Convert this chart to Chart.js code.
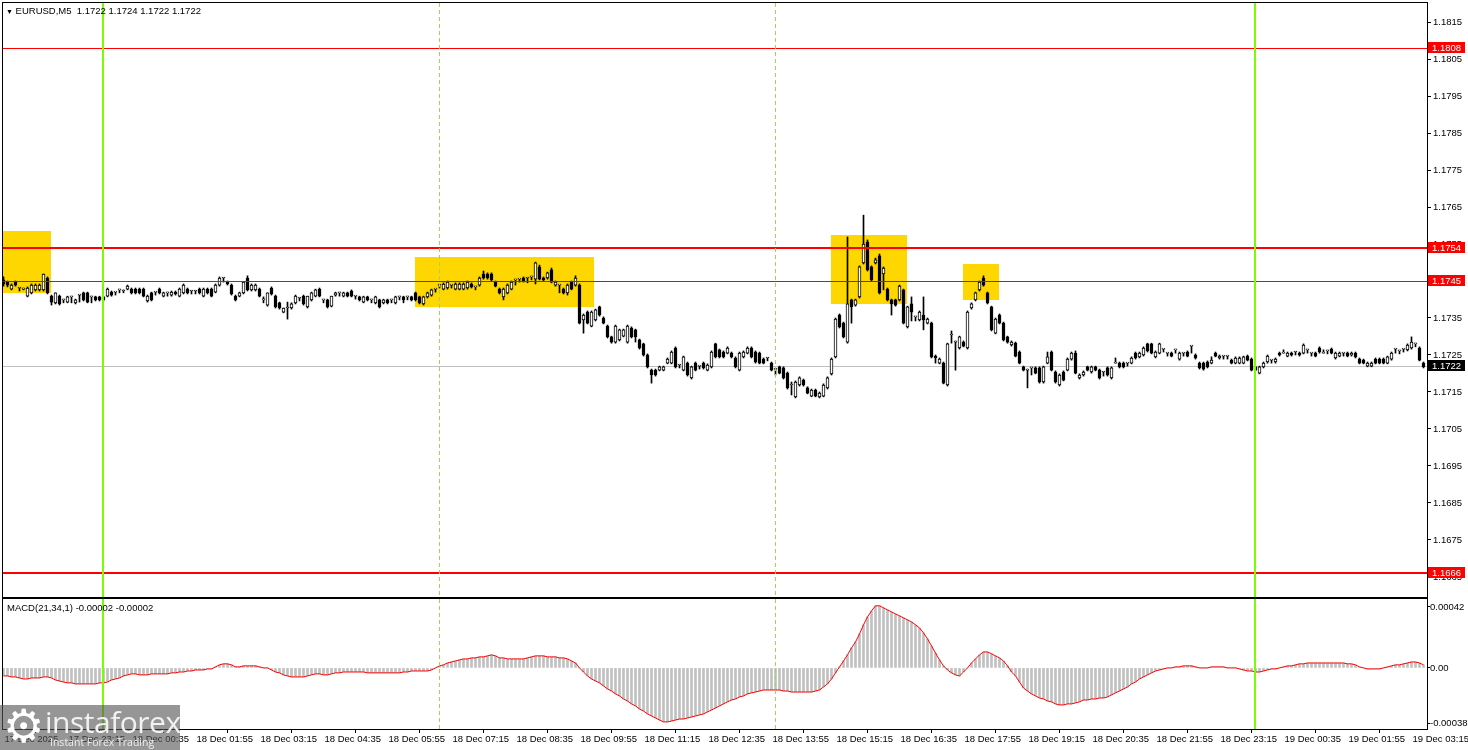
<!DOCTYPE html>
<html>
<head>
<meta charset="utf-8">
<script src="https://cdn.jsdelivr.net/npm/chart.js@4.4.1/dist/chart.umd.min.js"></script>
<style>
  html, body { margin: 0; padding: 0; background: #fff; }
  #wrap { position: relative; width: 1468px; height: 750px; overflow: hidden; font-family: "Liberation Sans", Arial, sans-serif; }
  canvas { position: absolute; left: 0; }
  #main { top: 0; }
  #macd { top: 598px; }
  .lbl { position: absolute; font-size: 9.5px; color: #000; white-space: pre; line-height: 12px; }
  #wm { position: absolute; left: 0; top: 705px; width: 180px; height: 45px; background: rgba(85,85,85,0.62); color: #fff; }
  #wm .gear { position: absolute; left: 3px; top: -5px; font-size: 46px; line-height: 52px; font-family: "DejaVu Sans", sans-serif; color: #fff; }
  #wm .big { position: absolute; left: 45px; top: -1px; font-size: 30px; line-height: 36px; font-family: "Open Sans", sans-serif; color: #f2f2f2; letter-spacing: -0.5px; }
  #wm .small { position: absolute; left: 50px; top: 31px; font-size: 10.5px; line-height: 13px; font-family: "Open Sans", sans-serif; color: #eee; }
</style>
</head>
<body>
<div id="wrap">
  <canvas id="main" width="1468" height="598"></canvas>
  <canvas id="macd" width="1468" height="152"></canvas>
  <div class="lbl" style="left:6px;top:5px"><span style="font-size:7px">&#9660;</span> EURUSD,M5  1.1722 1.1724 1.1722 1.1722</div>
  <div class="lbl" style="left:7px;top:602px">MACD(21,34,1) -0.00002 -0.00002</div>
  <div id="wm"><span class="gear">&#9881;</span><span class="big">instaforex</span><span class="small">Instant Forex Trading</span></div>
</div>
<script>
// EURUSD M5, 17 Dec 21:55 -> 19 Dec 03:30, one row per candle: [open, high, low, close]
var ohlc = [
  [1.17453,1.17461,1.17436,1.17442],[1.17447,1.17450,1.17434,1.17439],[1.17428,1.17442,1.17426,1.17439],[1.17447,1.17450,1.17436,1.17439],[1.17431,1.17431,1.17423,1.17431],[1.17428,1.17431,1.17426,1.17428],[1.17409,1.17434,1.17407,1.17431],[1.17418,1.17442,1.17415,1.17439],[1.17426,1.17442,1.17423,1.17439],[1.17426,1.17442,1.17423,1.17439],
  [1.17426,1.17469,1.17423,1.17469],[1.17458,1.17461,1.17415,1.17418],[1.17409,1.17412,1.17385,1.17393],[1.17391,1.17418,1.17388,1.17418],[1.17409,1.17412,1.17385,1.17388],[1.17399,1.17399,1.17391,1.17399],[1.17393,1.17409,1.17391,1.17407],[1.17407,1.17407,1.17391,1.17407],[1.17391,1.17401,1.17388,1.17399],[1.17412,1.17412,1.17393,1.17412],
  [1.17418,1.17420,1.17396,1.17399],[1.17418,1.17420,1.17391,1.17393],[1.17407,1.17407,1.17391,1.17407],[1.17407,1.17409,1.17396,1.17399],[1.17407,1.17409,1.17396,1.17399],[1.17407,1.17409,1.17396,1.17399],[1.17409,1.17431,1.17407,1.17428],[1.17420,1.17423,1.17409,1.17412],[1.17420,1.17420,1.17412,1.17420],[1.17426,1.17426,1.17418,1.17426],
  [1.17423,1.17426,1.17418,1.17423],[1.17428,1.17439,1.17426,1.17436],[1.17428,1.17431,1.17415,1.17418],[1.17428,1.17431,1.17415,1.17418],[1.17428,1.17431,1.17415,1.17418],[1.17428,1.17431,1.17407,1.17409],[1.17396,1.17412,1.17393,1.17409],[1.17418,1.17420,1.17396,1.17399],[1.17420,1.17420,1.17412,1.17420],[1.17428,1.17431,1.17415,1.17418],
  [1.17409,1.17420,1.17407,1.17418],[1.17418,1.17418,1.17409,1.17418],[1.17412,1.17423,1.17409,1.17420],[1.17420,1.17423,1.17412,1.17415],[1.17409,1.17431,1.17407,1.17428],[1.17418,1.17442,1.17415,1.17439],[1.17428,1.17431,1.17415,1.17418],[1.17423,1.17423,1.17415,1.17423],[1.17423,1.17423,1.17415,1.17423],[1.17428,1.17431,1.17415,1.17418],
  [1.17409,1.17431,1.17407,1.17428],[1.17428,1.17431,1.17415,1.17418],[1.17428,1.17431,1.17407,1.17409],[1.17420,1.17442,1.17418,1.17439],[1.17439,1.17461,1.17436,1.17458],[1.17458,1.17458,1.17447,1.17458],[1.17447,1.17450,1.17439,1.17442],[1.17439,1.17442,1.17412,1.17415],[1.17409,1.17412,1.17396,1.17399],[1.17409,1.17420,1.17407,1.17418],
  [1.17418,1.17447,1.17415,1.17447],[1.17458,1.17464,1.17423,1.17426],[1.17426,1.17442,1.17423,1.17439],[1.17426,1.17442,1.17423,1.17439],[1.17428,1.17431,1.17407,1.17409],[1.17399,1.17407,1.17391,1.17399],[1.17385,1.17418,1.17382,1.17418],[1.17431,1.17434,1.17412,1.17415],[1.17409,1.17412,1.17377,1.17380],[1.17391,1.17393,1.17374,1.17377],
  [1.17366,1.17377,1.17364,1.17377],[1.17377,1.17393,1.17347,1.17377],[1.17377,1.17391,1.17374,1.17388],[1.17391,1.17412,1.17388,1.17409],[1.17404,1.17404,1.17396,1.17404],[1.17409,1.17412,1.17385,1.17388],[1.17380,1.17409,1.17377,1.17409],[1.17399,1.17420,1.17396,1.17418],[1.17409,1.17428,1.17407,1.17426],[1.17428,1.17431,1.17407,1.17409],
  [1.17399,1.17399,1.17391,1.17399],[1.17399,1.17401,1.17377,1.17380],[1.17382,1.17409,1.17380,1.17409],[1.17412,1.17420,1.17409,1.17418],[1.17418,1.17418,1.17409,1.17418],[1.17409,1.17420,1.17407,1.17418],[1.17418,1.17420,1.17407,1.17409],[1.17423,1.17426,1.17407,1.17409],[1.17409,1.17409,1.17401,1.17409],[1.17407,1.17409,1.17396,1.17399],
  [1.17393,1.17409,1.17391,1.17407],[1.17407,1.17409,1.17396,1.17399],[1.17399,1.17399,1.17391,1.17399],[1.17391,1.17409,1.17388,1.17407],[1.17399,1.17401,1.17377,1.17380],[1.17391,1.17401,1.17388,1.17399],[1.17399,1.17401,1.17388,1.17391],[1.17399,1.17399,1.17391,1.17399],[1.17391,1.17409,1.17388,1.17407],[1.17407,1.17407,1.17399,1.17407],
  [1.17407,1.17409,1.17391,1.17399],[1.17407,1.17407,1.17399,1.17407],[1.17407,1.17409,1.17396,1.17399],[1.17418,1.17420,1.17396,1.17399],[1.17407,1.17409,1.17388,1.17391],[1.17388,1.17409,1.17385,1.17407],[1.17407,1.17420,1.17404,1.17418],[1.17412,1.17428,1.17409,1.17426],[1.17428,1.17428,1.17420,1.17428],[1.17439,1.17439,1.17431,1.17439],
  [1.17428,1.17445,1.17426,1.17442],[1.17431,1.17450,1.17428,1.17447],[1.17439,1.17439,1.17431,1.17439],[1.17428,1.17445,1.17426,1.17442],[1.17428,1.17445,1.17426,1.17442],[1.17428,1.17445,1.17426,1.17442],[1.17431,1.17450,1.17428,1.17447],[1.17442,1.17445,1.17431,1.17434],[1.17434,1.17434,1.17426,1.17434],[1.17439,1.17461,1.17436,1.17458],
  [1.17469,1.17477,1.17455,1.17458],[1.17469,1.17472,1.17455,1.17458],[1.17469,1.17472,1.17450,1.17453],[1.17447,1.17450,1.17434,1.17436],[1.17428,1.17431,1.17415,1.17418],[1.17407,1.17431,1.17399,1.17428],[1.17418,1.17442,1.17415,1.17439],[1.17428,1.17450,1.17426,1.17447],[1.17453,1.17453,1.17439,1.17453],[1.17455,1.17455,1.17447,1.17455],
  [1.17458,1.17461,1.17447,1.17450],[1.17458,1.17458,1.17445,1.17458],[1.17461,1.17461,1.17453,1.17461],[1.17455,1.17501,1.17442,1.17499],[1.17488,1.17493,1.17453,1.17455],[1.17458,1.17461,1.17450,1.17453],[1.17458,1.17474,1.17455,1.17472],[1.17480,1.17485,1.17445,1.17447],[1.17439,1.17450,1.17436,1.17447],[1.17439,1.17439,1.17418,1.17439],
  [1.17428,1.17431,1.17415,1.17418],[1.17418,1.17442,1.17412,1.17439],[1.17447,1.17450,1.17426,1.17428],[1.17439,1.17464,1.17436,1.17458],[1.17439,1.17442,1.17334,1.17336],[1.17345,1.17361,1.17309,1.17358],[1.17366,1.17369,1.17334,1.17336],[1.17328,1.17369,1.17326,1.17366],[1.17345,1.17374,1.17342,1.17372],[1.17380,1.17382,1.17355,1.17358],
  [1.17350,1.17353,1.17334,1.17336],[1.17328,1.17331,1.17296,1.17299],[1.17299,1.17301,1.17282,1.17285],[1.17285,1.17331,1.17282,1.17328],[1.17291,1.17320,1.17288,1.17318],[1.17301,1.17320,1.17299,1.17318],[1.17285,1.17331,1.17282,1.17328],[1.17323,1.17326,1.17296,1.17299],[1.17318,1.17320,1.17285,1.17299],[1.17291,1.17293,1.17266,1.17269],
  [1.17280,1.17282,1.17247,1.17250],[1.17250,1.17253,1.17215,1.17218],[1.17209,1.17212,1.17174,1.17196],[1.17209,1.17212,1.17193,1.17196],[1.17209,1.17220,1.17207,1.17218],[1.17209,1.17220,1.17207,1.17218],[1.17228,1.17242,1.17226,1.17239],[1.17228,1.17261,1.17226,1.17258],[1.17269,1.17272,1.17215,1.17218],[1.17223,1.17223,1.17215,1.17223],
  [1.17209,1.17247,1.17207,1.17245],[1.17228,1.17231,1.17193,1.17196],[1.17188,1.17220,1.17185,1.17218],[1.17228,1.17231,1.17207,1.17209],[1.17220,1.17220,1.17212,1.17220],[1.17228,1.17231,1.17212,1.17215],[1.17209,1.17226,1.17207,1.17223],[1.17218,1.17261,1.17215,1.17258],[1.17280,1.17282,1.17242,1.17245],[1.17264,1.17266,1.17242,1.17245],
  [1.17258,1.17261,1.17242,1.17245],[1.17255,1.17272,1.17253,1.17269],[1.17255,1.17258,1.17242,1.17245],[1.17242,1.17245,1.17215,1.17218],[1.17209,1.17258,1.17207,1.17255],[1.17245,1.17261,1.17242,1.17258],[1.17255,1.17272,1.17253,1.17269],[1.17269,1.17272,1.17242,1.17245],[1.17258,1.17261,1.17228,1.17231],[1.17255,1.17258,1.17226,1.17228],
  [1.17239,1.17242,1.17226,1.17228],[1.17242,1.17242,1.17234,1.17242],[1.17228,1.17231,1.17207,1.17209],[1.17212,1.17212,1.17196,1.17212],[1.17218,1.17220,1.17199,1.17201],[1.17215,1.17218,1.17185,1.17188],[1.17201,1.17204,1.17158,1.17161],[1.17169,1.17177,1.17142,1.17169],[1.17137,1.17180,1.17134,1.17177],[1.17169,1.17191,1.17166,1.17188],
  [1.17182,1.17185,1.17166,1.17169],[1.17161,1.17164,1.17145,1.17147],[1.17139,1.17158,1.17137,1.17155],[1.17155,1.17158,1.17137,1.17139],[1.17137,1.17150,1.17134,1.17147],[1.17139,1.17172,1.17137,1.17169],[1.17161,1.17191,1.17158,1.17188],[1.17199,1.17242,1.17196,1.17239],[1.17245,1.17350,1.17242,1.17347],[1.17358,1.17361,1.17323,1.17326],
  [1.17336,1.17339,1.17296,1.17299],[1.17285,1.17569,1.17282,1.17388],[1.17399,1.17401,1.17336,1.17380],[1.17385,1.17401,1.17382,1.17399],[1.17407,1.17491,1.17404,1.17488],[1.17499,1.17628,1.17496,1.17550],[1.17555,1.17561,1.17477,1.17480],[1.17488,1.17491,1.17450,1.17453],[1.17499,1.17512,1.17496,1.17507],[1.17518,1.17523,1.17415,1.17418],
  [1.17469,1.17488,1.17426,1.17485],[1.17428,1.17431,1.17396,1.17399],[1.17399,1.17401,1.17358,1.17388],[1.17399,1.17401,1.17382,1.17385],[1.17399,1.17439,1.17396,1.17436],[1.17426,1.17428,1.17334,1.17336],[1.17326,1.17382,1.17323,1.17380],[1.17388,1.17407,1.17342,1.17366],[1.17353,1.17353,1.17342,1.17353],[1.17345,1.17369,1.17342,1.17366],
  [1.17358,1.17407,1.17318,1.17345],[1.17336,1.17350,1.17334,1.17347],[1.17336,1.17339,1.17242,1.17245],[1.17247,1.17250,1.17228,1.17242],[1.17228,1.17242,1.17226,1.17239],[1.17228,1.17231,1.17172,1.17174],[1.17169,1.17282,1.17166,1.17280],[1.17304,1.17315,1.17282,1.17304],[1.17285,1.17288,1.17209,1.17285],[1.17269,1.17301,1.17266,1.17299],
  [1.17285,1.17288,1.17272,1.17274],[1.17269,1.17369,1.17266,1.17366],[1.17377,1.17391,1.17374,1.17388],[1.17399,1.17420,1.17396,1.17418],[1.17426,1.17450,1.17423,1.17447],[1.17458,1.17464,1.17436,1.17439],[1.17418,1.17420,1.17388,1.17391],[1.17380,1.17382,1.17315,1.17318],[1.17309,1.17350,1.17307,1.17347],[1.17358,1.17361,1.17334,1.17336],
  [1.17336,1.17339,1.17288,1.17291],[1.17299,1.17301,1.17282,1.17285],[1.17277,1.17288,1.17274,1.17285],[1.17282,1.17285,1.17245,1.17247],[1.17258,1.17261,1.17226,1.17228],[1.17218,1.17220,1.17207,1.17209],[1.17209,1.17212,1.17161,1.17209],[1.17215,1.17215,1.17196,1.17215],[1.17215,1.17218,1.17199,1.17201],[1.17215,1.17218,1.17174,1.17177],
  [1.17177,1.17220,1.17174,1.17218],[1.17228,1.17258,1.17226,1.17245],[1.17258,1.17261,1.17207,1.17209],[1.17204,1.17207,1.17174,1.17177],[1.17169,1.17199,1.17166,1.17196],[1.17204,1.17207,1.17180,1.17182],[1.17209,1.17242,1.17207,1.17239],[1.17239,1.17258,1.17236,1.17255],[1.17255,1.17261,1.17199,1.17201],[1.17188,1.17199,1.17185,1.17196],
  [1.17196,1.17207,1.17193,1.17204],[1.17218,1.17220,1.17207,1.17209],[1.17204,1.17220,1.17201,1.17218],[1.17218,1.17220,1.17207,1.17209],[1.17209,1.17212,1.17185,1.17188],[1.17204,1.17204,1.17193,1.17204],[1.17215,1.17218,1.17193,1.17196],[1.17188,1.17218,1.17185,1.17215],[1.17228,1.17242,1.17228,1.17228],[1.17228,1.17231,1.17215,1.17218],
  [1.17228,1.17231,1.17215,1.17218],[1.17228,1.17228,1.17220,1.17228],[1.17228,1.17245,1.17226,1.17242],[1.17255,1.17258,1.17239,1.17242],[1.17245,1.17258,1.17242,1.17255],[1.17250,1.17272,1.17247,1.17269],[1.17280,1.17282,1.17258,1.17261],[1.17280,1.17282,1.17253,1.17255],[1.17245,1.17261,1.17242,1.17258],[1.17255,1.17282,1.17253,1.17280],
  [1.17266,1.17266,1.17258,1.17266],[1.17255,1.17255,1.17247,1.17255],[1.17255,1.17258,1.17245,1.17247],[1.17264,1.17264,1.17255,1.17264],[1.17239,1.17258,1.17236,1.17255],[1.17255,1.17255,1.17247,1.17255],[1.17258,1.17261,1.17245,1.17247],[1.17274,1.17274,1.17255,1.17274],[1.17250,1.17253,1.17239,1.17242],[1.17228,1.17231,1.17212,1.17215],
  [1.17228,1.17231,1.17209,1.17212],[1.17231,1.17234,1.17215,1.17218],[1.17228,1.17245,1.17226,1.17236],[1.17255,1.17258,1.17245,1.17247],[1.17242,1.17250,1.17239,1.17247],[1.17247,1.17247,1.17239,1.17247],[1.17247,1.17247,1.17239,1.17247],[1.17236,1.17239,1.17226,1.17228],[1.17228,1.17245,1.17226,1.17242],[1.17228,1.17245,1.17226,1.17242],
  [1.17228,1.17247,1.17226,1.17245],[1.17247,1.17250,1.17234,1.17236],[1.17239,1.17242,1.17207,1.17209],[1.17218,1.17220,1.17207,1.17209],[1.17201,1.17220,1.17199,1.17218],[1.17218,1.17231,1.17215,1.17228],[1.17231,1.17250,1.17228,1.17247],[1.17236,1.17236,1.17228,1.17236],[1.17231,1.17242,1.17228,1.17239],[1.17255,1.17258,1.17247,1.17250],
  [1.17255,1.17264,1.17255,1.17255],[1.17247,1.17258,1.17245,1.17255],[1.17255,1.17258,1.17247,1.17250],[1.17258,1.17258,1.17250,1.17258],[1.17255,1.17258,1.17247,1.17250],[1.17255,1.17280,1.17253,1.17277],[1.17264,1.17264,1.17255,1.17264],[1.17255,1.17255,1.17247,1.17255],[1.17255,1.17258,1.17245,1.17247],[1.17269,1.17272,1.17255,1.17258],
  [1.17255,1.17264,1.17255,1.17255],[1.17261,1.17261,1.17253,1.17261],[1.17266,1.17269,1.17253,1.17255],[1.17242,1.17258,1.17239,1.17255],[1.17247,1.17258,1.17245,1.17255],[1.17255,1.17255,1.17247,1.17255],[1.17255,1.17258,1.17245,1.17247],[1.17250,1.17258,1.17247,1.17255],[1.17255,1.17258,1.17242,1.17245],[1.17239,1.17242,1.17226,1.17228],
  [1.17236,1.17239,1.17226,1.17228],[1.17220,1.17231,1.17218,1.17228],[1.17220,1.17231,1.17218,1.17228],[1.17239,1.17242,1.17226,1.17228],[1.17239,1.17242,1.17226,1.17228],[1.17239,1.17242,1.17226,1.17228],[1.17228,1.17247,1.17226,1.17245],[1.17239,1.17258,1.17236,1.17255],[1.17266,1.17266,1.17255,1.17266],[1.17261,1.17261,1.17253,1.17261],
  [1.17266,1.17266,1.17258,1.17266],[1.17264,1.17280,1.17261,1.17277],[1.17269,1.17299,1.17266,1.17285],[1.17280,1.17280,1.17272,1.17280],[1.17269,1.17272,1.17234,1.17236],[1.17228,1.17231,1.17215,1.17218]
];

// MACD(21,34,1) main line, one value per candle
var macd = [
  -0.000055,-0.000055,-0.000062,-0.000062,-0.000069,-0.000076,-0.000076,-0.000069,-0.000069,-0.000069,
  -0.000062,-0.000062,-0.000069,-0.000083,-0.000090,-0.000097,-0.000103,-0.000103,-0.000110,-0.000110,
  -0.000110,-0.000110,-0.000110,-0.000110,-0.000103,-0.000103,-0.000097,-0.000083,-0.000076,-0.000069,
  -0.000055,-0.000048,-0.000041,-0.000041,-0.000048,-0.000048,-0.000048,-0.000041,-0.000041,-0.000041,
  -0.000041,-0.000041,-0.000034,-0.000034,-0.000028,-0.000028,-0.000021,-0.000021,-0.000014,-0.000014,
  -0.000014,-0.000007,-0.000007,0.000007,0.000021,0.000028,0.000028,0.000021,0.000007,0.000007,
  0.000014,0.000014,0.000014,0.000014,0.000007,0,0,-0.000014,-0.000028,-0.000034,
  -0.000048,-0.000055,-0.000062,-0.000062,-0.000062,-0.000062,-0.000055,-0.000048,-0.000041,-0.000041,
  -0.000048,-0.000048,-0.000041,-0.000034,-0.000034,-0.000028,-0.000028,-0.000028,-0.000028,-0.000028,
  -0.000028,-0.000034,-0.000034,-0.000034,-0.000034,-0.000034,-0.000034,-0.000034,-0.000034,-0.000034,
  -0.000028,-0.000028,-0.000021,-0.000021,-0.000021,-0.000021,-0.000021,-0.000014,0,0.000014,
  0.000021,0.000034,0.000041,0.000048,0.000055,0.000062,0.000062,0.000069,0.000069,0.000076,
  0.000076,0.000083,0.000090,0.000083,0.000069,0.000069,0.000062,0.000062,0.000062,0.000062,
  0.000062,0.000069,0.000076,0.000083,0.000083,0.000083,0.000076,0.000076,0.000076,0.000069,
  0.000069,0.000062,0.000048,0.000034,0,-0.000028,-0.000055,-0.000076,-0.000090,-0.000103,
  -0.000124,-0.000145,-0.000159,-0.000179,-0.000193,-0.000214,-0.000228,-0.000248,-0.000262,-0.000283,
  -0.000297,-0.000317,-0.000331,-0.000345,-0.000359,-0.000372,-0.000372,-0.000366,-0.000359,-0.000352,
  -0.000352,-0.000345,-0.000338,-0.000331,-0.000324,-0.000317,-0.000303,-0.000290,-0.000276,-0.000262,
  -0.000248,-0.000234,-0.000221,-0.000214,-0.000200,-0.000193,-0.000179,-0.000172,-0.000166,-0.000159,
  -0.000152,-0.000152,-0.000152,-0.000152,-0.000152,-0.000159,-0.000159,-0.000166,-0.000166,-0.000166,
  -0.000166,-0.000166,-0.000166,-0.000159,-0.000152,-0.000131,-0.000110,-0.000076,-0.000034,0.000007,
  0.000048,0.000090,0.000138,0.000179,0.000234,0.000297,0.000352,0.000393,0.000428,0.000428,
  0.000414,0.000400,0.000386,0.000372,0.000359,0.000345,0.000331,0.000317,0.000297,0.000276,
  0.000241,0.000200,0.000152,0.000103,0.000055,0.000014,-0.000014,-0.000034,-0.000048,-0.000055,
  -0.000028,0,0.000034,0.000062,0.000090,0.000110,0.000110,0.000097,0.000083,0.000069,
  0.000048,0.000014,-0.000028,-0.000055,-0.000097,-0.000138,-0.000159,-0.000179,-0.000193,-0.000207,
  -0.000214,-0.000228,-0.000234,-0.000248,-0.000255,-0.000255,-0.000248,-0.000248,-0.000241,-0.000234,
  -0.000221,-0.000221,-0.000214,-0.000214,-0.000207,-0.000207,-0.000200,-0.000186,-0.000172,-0.000159,
  -0.000145,-0.000131,-0.000110,-0.000097,-0.000076,-0.000062,-0.000048,-0.000034,-0.000021,-0.000014,
  -0.000007,0,0,0.000007,0.000007,0.000014,0.000014,0.000014,0.000007,0,
  0,0,0.000007,0.000007,0.000007,0.000007,0,0,0,-0.000007,
  -0.000014,-0.000021,-0.000021,-0.000028,-0.000028,-0.000021,-0.000014,-0.000007,-0.000007,0,
  0.000007,0.000014,0.000014,0.000021,0.000028,0.000028,0.000034,0.000034,0.000034,0.000034,
  0.000034,0.000034,0.000034,0.000034,0.000034,0.000034,0.000028,0.000028,0.000021,0.000007,
  0,-0.000007,-0.000007,-0.000007,-0.000007,0,0.000007,0.000014,0.000021,0.000021,
  0.000028,0.000034,0.000041,0.000041,0.000034,0.000021
];

var xTickIndex = [0,16,32,48,64,80,96,112,128,144,160,176,192,208,224,240,256,272,288,304,320,336,352];
var xTickLabels = [
  "17 Dec 2025","17 Dec 23:15","18 Dec 00:35","18 Dec 01:55","18 Dec 03:15","18 Dec 04:35",
  "18 Dec 05:55","18 Dec 07:15","18 Dec 08:35","18 Dec 09:55","18 Dec 11:15","18 Dec 12:35",
  "18 Dec 13:55","18 Dec 15:15","18 Dec 16:35","18 Dec 17:55","18 Dec 19:15","18 Dec 20:35",
  "18 Dec 21:55","18 Dec 23:15","19 Dec 00:35","19 Dec 01:55","19 Dec 03:15"
];
var priceTicks = [1.1665,1.1675,1.1685,1.1695,1.1705,1.1715,1.1725,1.1735,1.1745,1.1755,1.1765,1.1775,1.1785,1.1795,1.1805,1.1815];
var macdTicks = [-0.00038, 0, 0.00042];
var macdTickLabels = ["-0.00038", "0.00", "0.00042"];

// horizontal levels and the last price
var levelPrices = [1.1808, 1.1754, 1.1745, 1.1666];
var lastPrice = 1.1722;

// yellow zones: from/to candle index, upper/lower price
var zoneFrom = [-1, 102.9, 206.9, 239.9];
var zoneTo = [11.8, 147.7, 225.8, 248.8];
var zoneHigh = [1.17585, 1.17516, 1.17574, 1.17496];
var zoneLow = [1.17418, 1.17381, 1.17389, 1.17399];

// vertical markers by candle index
var dayLines = [25, 313];
var dashLines = [109, 193];

var FONT = "'Liberation Sans', Arial, sans-serif";
var levelWidth = [1, 2, 1, 2];
var xMin = -0.125, xMax = 355.875;

Chart.defaults.font.family = FONT;
Chart.defaults.font.size = 9.5;
Chart.defaults.color = "#000";

// keep the plot area where the padding puts it: no extra room for tick labels
function noLabelPadding(s) {
  s.paddingTop = 0;
  s.paddingBottom = 0;
  s.paddingLeft = 0;
  s.paddingRight = 0;
}

var verticals = {
  id: "verticals",
  afterDatasetsDraw: function(chart) {
    var ctx = chart.ctx, a = chart.chartArea, xs = chart.scales.x;
    ctx.save();
    ctx.beginPath();
    ctx.rect(a.left, a.top, a.right - a.left, a.bottom - a.top);
    ctx.clip();
    ctx.strokeStyle = "#9fd84a";
    ctx.lineWidth = 1;
    ctx.setLineDash([4, 3]);
    dashLines.forEach(function(i) {
      var x = Math.floor(xs.getPixelForValue(i)) + 0.5;
      ctx.beginPath(); ctx.moveTo(x, a.top); ctx.lineTo(x, a.bottom); ctx.stroke();
    });
    ctx.setLineDash([]);
    ctx.strokeStyle = "#7cfc00";
    ctx.lineWidth = 2;
    dayLines.forEach(function(i) {
      var x = Math.floor(xs.getPixelForValue(i));
      ctx.beginPath(); ctx.moveTo(x, a.top); ctx.lineTo(x, a.bottom); ctx.stroke();
    });
    ctx.restore();
  },
  afterDraw: function(chart) {
    var ctx = chart.ctx, a = chart.chartArea;
    ctx.save();
    ctx.strokeStyle = "#000";
    ctx.lineWidth = 1;
    ctx.strokeRect(Math.round(a.left) - 0.5, Math.round(a.top) - 0.5, Math.round(a.right - a.left) + 1, Math.round(a.bottom - a.top) + 1);
    ctx.restore();
  }
};

var priceObjects = {
  id: "priceObjects",
  beforeDatasetsDraw: function(chart) {
    var ctx = chart.ctx, a = chart.chartArea, xs = chart.scales.x, ys = chart.scales.y;
    ctx.save();
    ctx.beginPath();
    ctx.rect(a.left, a.top, a.right - a.left, a.bottom - a.top);
    ctx.clip();
    ctx.fillStyle = "#ffd700";
    for (var k = 0; k < zoneFrom.length; k++) {
      var x0 = Math.round(xs.getPixelForValue(zoneFrom[k]));
      var x1 = Math.round(xs.getPixelForValue(zoneTo[k]));
      var y0 = Math.round(ys.getPixelForValue(zoneHigh[k]));
      var y1 = Math.round(ys.getPixelForValue(zoneLow[k]));
      ctx.fillRect(x0, y0, x1 - x0, y1 - y0);
    }
    var yl = Math.round(ys.getPixelForValue(lastPrice)) + 0.5;
    ctx.strokeStyle = "#c0c0c0";
    ctx.lineWidth = 1;
    ctx.beginPath(); ctx.moveTo(a.left, yl); ctx.lineTo(a.right, yl); ctx.stroke();
    ctx.restore();
  },
  afterDatasetsDraw: function(chart) {
    var ctx = chart.ctx, a = chart.chartArea, ys = chart.scales.y;
    ctx.save();
    ctx.strokeStyle = "#ff0000";
    levelPrices.forEach(function(p, k) {
      var w = levelWidth[k];
      var y = Math.round(ys.getPixelForValue(p)) + (w === 1 ? 0.5 : 0);
      ctx.lineWidth = w;
      ctx.beginPath(); ctx.moveTo(a.left, y); ctx.lineTo(a.right, y); ctx.stroke();
    });
    ctx.restore();
  },
  afterDraw: function(chart) {
    var ctx = chart.ctx, a = chart.chartArea, ys = chart.scales.y;
    ctx.save();
    ctx.font = "9.5px " + FONT;
    ctx.textBaseline = "middle";
    ctx.textAlign = "left";
    function tag(p, bg) {
      var y = Math.round(ys.getPixelForValue(p));
      ctx.fillStyle = bg;
      ctx.fillRect(a.right + 1, y - 6, 37, 11);
      ctx.fillStyle = "#fff";
      ctx.fillText(p.toFixed(4), a.right + 5, y);
    }
    levelPrices.forEach(function(p) { tag(p, "#ff0000"); });
    tag(lastPrice, "#000");
    ctx.restore();
  }
};

new Chart(document.getElementById("main"), {
  type: "bar",
  data: {
    datasets: [
      {
        label: "body",
        data: ohlc.map(function(c, i) { return { x: i, y: [c[0], c[3]] }; }),
        backgroundColor: ohlc.map(function(c) { return c[3] >= c[0] ? "#fff" : "#000"; }),
        borderColor: "#000",
        borderWidth: 1,
        borderSkipped: false,
        barThickness: 3,
        minBarLength: 1,
        grouped: false
      },
      {
        label: "wick",
        data: ohlc.map(function(c, i) { return { x: i, y: [c[2], c[1]] }; }),
        backgroundColor: "#000",
        borderWidth: 0,
        barThickness: 1,
        minBarLength: 1,
        grouped: false
      }
    ]
  },
  options: {
    responsive: false,
    animation: false,
    events: [],
    layout: { padding: { left: 3, top: 3, right: 0, bottom: 1 }, autoPadding: false },
    plugins: { legend: { display: false }, tooltip: { enabled: false } },
    scales: {
      x: { type: "linear", min: xMin, max: xMax, offset: false, display: false },
      y: {
        position: "right",
        min: 1.165959,
        max: 1.182014,
        afterFit: function(s) { s.width = 41; noLabelPadding(s); },
        afterBuildTicks: function(s) { s.ticks = priceTicks.map(function(v) { return { value: v }; }); },
        ticks: { callback: function(v) { return v.toFixed(4); }, padding: 2, color: "#000", font: { size: 9.5 } },
        grid: { drawOnChartArea: false, drawTicks: true, tickLength: 4, color: "#000" },
        border: { display: true, color: "#000" }
      }
    }
  },
  plugins: [priceObjects, verticals]
});

new Chart(document.getElementById("macd"), {
  type: "bar",
  data: {
    datasets: [
      {
        type: "line",
        data: macd.map(function(v, i) { return { x: i, y: v }; }),
        borderColor: "#ff0000",
        borderWidth: 1,
        pointRadius: 0,
        tension: 0
      },
      {
        type: "bar",
        data: macd.map(function(v, i) { return { x: i, y: v }; }),
        backgroundColor: "#c0c0c0",
        barThickness: 2,
        grouped: false
      }
    ]
  },
  options: {
    responsive: false,
    animation: false,
    events: [],
    layout: { padding: { left: 3, top: 1, right: 0, bottom: 0 }, autoPadding: false },
    plugins: { legend: { display: false }, tooltip: { enabled: false } },
    scales: {
      x: {
        type: "linear", min: xMin, max: xMax, offset: false,
        afterFit: function(s) { s.height = 21; noLabelPadding(s); },
        afterBuildTicks: function(s) { s.ticks = xTickIndex.map(function(v) { return { value: v }; }); },
        ticks: {
          callback: function(v, idx) { return xTickLabels[idx]; },
          align: "start", labelOffset: 1, maxRotation: 0, minRotation: 0, autoSkip: false,
          padding: 1, color: "#000", font: { size: 9.5 }
        },
        grid: { drawOnChartArea: false, drawTicks: true, tickLength: 4, color: "#000" },
        border: { display: true, color: "#000" }
      },
      y: {
        position: "right",
        min: -0.000421,
        max: 0.000475,
        afterFit: function(s) { s.width = 41; noLabelPadding(s); },
        afterBuildTicks: function(s) { s.ticks = macdTicks.map(function(v) { return { value: v }; }); },
        ticks: { callback: function(v, idx) { return macdTickLabels[idx]; }, padding: 0, color: "#000", font: { size: 9.5 } },
        grid: { drawOnChartArea: false, drawTicks: true, tickLength: 3, color: "#000" },
        border: { display: true, color: "#000" }
      }
    }
  },
  plugins: [verticals]
});
</script>
</body>
</html>
